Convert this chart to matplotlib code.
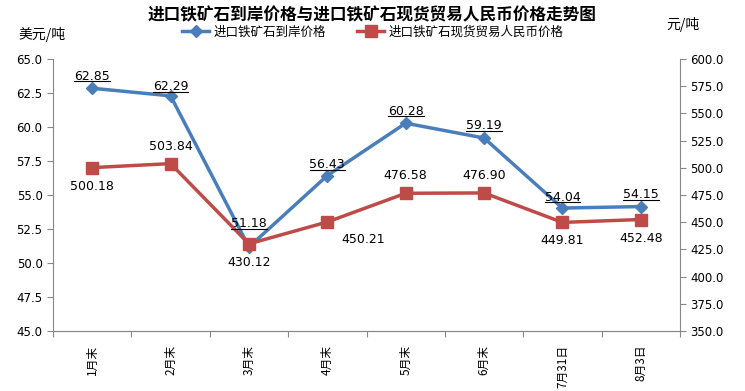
import matplotlib
matplotlib.use('Agg')
import matplotlib.pyplot as plt
from matplotlib.lines import Line2D
import numpy as np

plt.rcParams['font.family'] = ['Noto Sans CJK SC', 'DejaVu Sans']

categories = ['1月末', '2月末', '3月末', '4月末', '5月末', '6月末', '7月31日', '8月3日']
usd_price = [62.85, 62.29, 51.18, 56.43, 60.28, 59.19, 54.04, 54.15]
rmb_price = [500.18, 503.84, 430.12, 450.21, 476.58, 476.90, 449.81, 452.48]
# label offsets (points)
usd_offsets = [(0, 4), (0, 2), (0, 12), (0, 3), (0, 4), (0, 4), (0, 3), (0, 4)]
rmb_offsets = [(0, -18), (0, 8), (0, -18), (26, -17), (0, 8), (0, 8), (0, -18), (0, -18)]

blue = '#4A7EBB'
red = '#BE4B48'

fig = plt.figure(figsize=(7.45, 3.91), dpi=100)
ax = fig.add_axes([53/745, 1 - 331/391, 627/745, 272/391])
ax2 = ax.twinx()

x = np.arange(len(categories))
ax.plot(x, usd_price, color=blue, lw=2.5, marker='D', ms=6, zorder=3)
ax2.plot(x, rmb_price, color=red, lw=2.5, marker='s', ms=8, zorder=3)

for i, v in enumerate(usd_price):
    ax.annotate('{:.2f}'.format(v), (x[i], v), xytext=usd_offsets[i], textcoords='offset points',
                ha='center', va='bottom', fontsize=9, family='DejaVu Sans')
for i, v in enumerate(rmb_price):
    ax2.annotate('{:.2f}'.format(v), (x[i], v), xytext=rmb_offsets[i], textcoords='offset points',
                 ha='center', va='bottom', fontsize=9, family='DejaVu Sans')

ax.set_xlim(-0.5, len(categories) - 0.5)
ax.set_ylim(45, 65)
ax2.set_ylim(350, 600)
lt = np.arange(45, 65.1, 2.5)
rt = np.arange(350, 600.1, 25)
ax.set_yticks(lt)
ax2.set_yticks(rt)
ax.set_yticklabels(['{:.1f}'.format(t) for t in lt], fontsize=8.5, family='DejaVu Sans')
ax2.set_yticklabels(['{:.1f}'.format(t) for t in rt], fontsize=8.5, family='DejaVu Sans')
ax.set_xticks(np.arange(-0.5, len(categories), 1))
ax.set_xticklabels([])
ax.set_xticks(x, minor=True)
ax.set_xticklabels(categories, minor=True, rotation=90, fontsize=8.5)
ax.tick_params(axis='x', which='minor', length=0, pad=10)
ax.tick_params(axis='x', which='major', length=4, direction='out', color='#888888')
ax.tick_params(axis='y', length=4, direction='out', color='#888888')
ax2.tick_params(axis='y', length=4, direction='out', color='#888888')

for a in (ax, ax2):
    a.spines['top'].set_visible(False)
    for s in ['left', 'right', 'bottom']:
        a.spines[s].set_color('#888888')
ax.spines['right'].set_visible(False)
ax2.spines['left'].set_visible(False)

fig.text(0.5, 1 - 15/391, '进口铁矿石到岸价格与进口铁矿石现货贸易人民币价格走势图', ha='center', va='center',
         fontsize=12, fontweight='bold')
fig.text(18/745, 1 - 35/391, '美元/吨', ha='left', va='center', fontsize=10)
fig.text(666/745, 1 - 25/391, '元/吨', ha='left', va='center', fontsize=10)

handles = [Line2D([], [], color=blue, lw=2.5, marker='D', ms=6),
           Line2D([], [], color=red, lw=2.5, marker='s', ms=8)]
fig.legend(handles, ['进口铁矿石到岸价格', '进口铁矿石现货贸易人民币价格'], loc='center',
           bbox_to_anchor=(0.5, 1 - 32/391), ncol=2, frameon=False, fontsize=9,
           handlelength=2.2, columnspacing=2.5, handletextpad=0.3)

# underline the usd labels
fig.canvas.draw()
renderer = fig.canvas.get_renderer()
inv = fig.transFigure.inverted()
for t in ax.texts:
    bb = t.get_window_extent(renderer)
    (x0, y0), (x1, y1) = inv.transform([[bb.x0, bb.y0], [bb.x1, bb.y0]])
    fig.add_artist(Line2D([x0, x1], [y0 + 1.5/391, y0 + 1.5/391], color='black', lw=0.8,
                          transform=fig.transFigure))

fig.savefig('out.png', dpi=100)
